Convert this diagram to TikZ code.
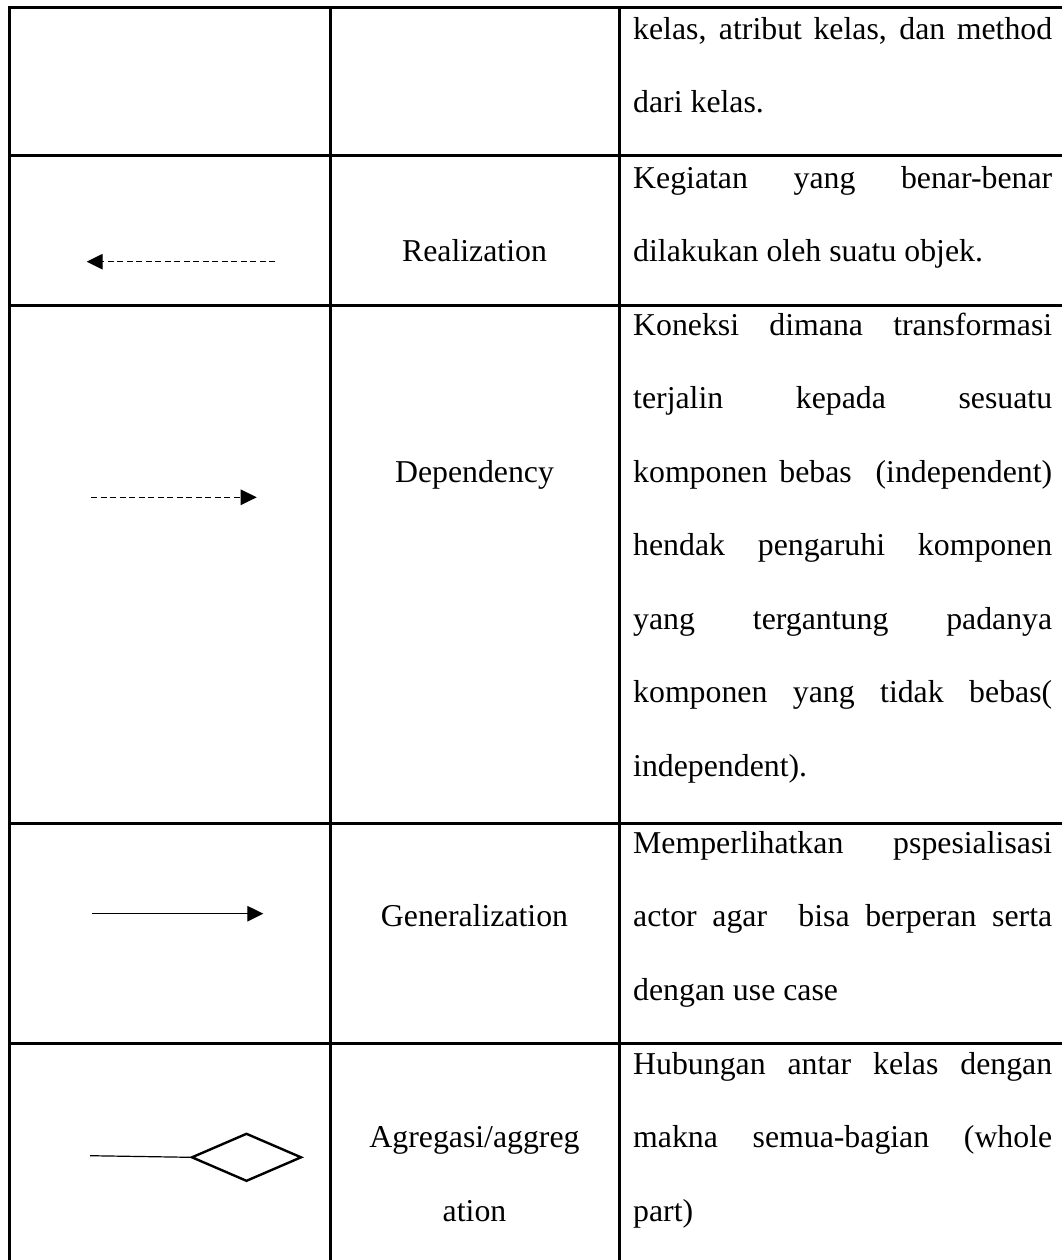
\documentclass[tikz,border=0pt]{standalone}
\usepackage{fontspec}
\setmainfont{Liberation Serif}
\usetikzlibrary{arrows.meta,shapes.geometric}

\begin{document}
\begin{tikzpicture}[x=1pt,y=-1pt,
  grid/.style={line width=3pt,line cap=rect},
  cell/.style={inner sep=0pt,font=\fontsize{31.8}{38}\selectfont},
  txt/.style={cell,anchor=base west},
  lbl/.style={cell,anchor=base},
  link/.style={line width=1.3pt},
  dashlink/.style={link,dash pattern=on 6pt off 3.5pt},
  tip/.style={-{Triangle[length=16pt,width=15.5pt]}},
  agg/.style={draw,diamond,line width=2.4pt,inner sep=0pt,
    minimum width=110pt,minimum height=48pt}
]
\useasboundingbox (0,0) rectangle (1061,1260);

% table rules
\draw[grid] (9,7.5) -- (1061,7.5);
\foreach \yy in {155.7,305,823,1043}
  \draw[grid] (9,\yy) -- (1061,\yy);
\foreach \xx in {9,330,619}
  \draw[grid] (\xx,7.5) -- (\xx,1262);

\newcommand{\jline}[1]{\makebox[419pt][s]{#1}}

% row 1
\node[txt] (r1a) at (633,39.3) {\jline{kelas, atribut kelas, dan method}};
\node[txt] (r1b) at (633,112.3) {dari kelas.};

% row 2: realization
\coordinate (reS) at (275,261.7);
\coordinate (reE) at (86.7,261.7);
\draw[dashlink,tip] (reS) -- (reE);
\node[lbl] (reL) at (474.5,261.3) {Realization};
\node[txt] (r2a) at (633,188.3) {\jline{Kegiatan yang benar-benar}};
\node[txt] (r2b) at (633,261.3) {dilakukan oleh suatu objek.};

% row 3: dependency
\coordinate (deS) at (91,497.3);
\coordinate (deE) at (256.7,497.3);
\draw[dashlink,tip] (deS) -- (deE);
\node[lbl] (deL) at (474.5,482.3) {Dependency};
\node[txt] (r3a) at (633,335.3) {\jline{Koneksi dimana transformasi}};
\node[txt] (r3b) at (633,408.8) {\jline{terjalin kepada sesuatu}};
\node[txt] (r3c) at (633,482.3) {\jline{komponen bebas \ (independent)}};
\node[txt] (r3d) at (633,555.8) {\jline{hendak pengaruhi komponen}};
\node[txt] (r3e) at (633,629.3) {\jline{yang tergantung padanya}};
\node[txt] (r3f) at (633,702.8) {\jline{komponen yang tidak bebas(}};
\node[txt] (r3g) at (633,776.3) {independent).};

% row 4: generalization
\coordinate (geS) at (91.7,913.7);
\coordinate (geE) at (263.3,913.7);
\draw[link,tip] (geS) -- (geE);
\node[lbl] (geL) at (474.5,926.8) {Generalization};
\node[txt] (r4a) at (633,853.3) {\jline{Memperlihatkan pspesialisasi}};
\node[txt] (r4b) at (633,926.8) {\jline{actor agar \ bisa berperan serta}};
\node[txt] (r4c) at (633,1000.3) {dengan use case};

% row 5: aggregation
\node[agg] (agD) at (246.5,1157.3) {};
\coordinate (agS) at (90,1155.7);
\draw[line width=1.2pt] (agS) -- (agD.west);
\node[lbl] (agL1) at (474.5,1147.8) {Agregasi/aggreg};
\node[lbl] (agL2) at (474.5,1221.3) {ation};
\node[txt] (r5a) at (633,1074.3) {\jline{Hubungan antar kelas dengan}};
\node[txt] (r5b) at (633,1147.8) {\jline{makna semua-bagian (whole}};
\node[txt] (r5c) at (633,1221.3) {part)};
\end{tikzpicture}
\end{document}
